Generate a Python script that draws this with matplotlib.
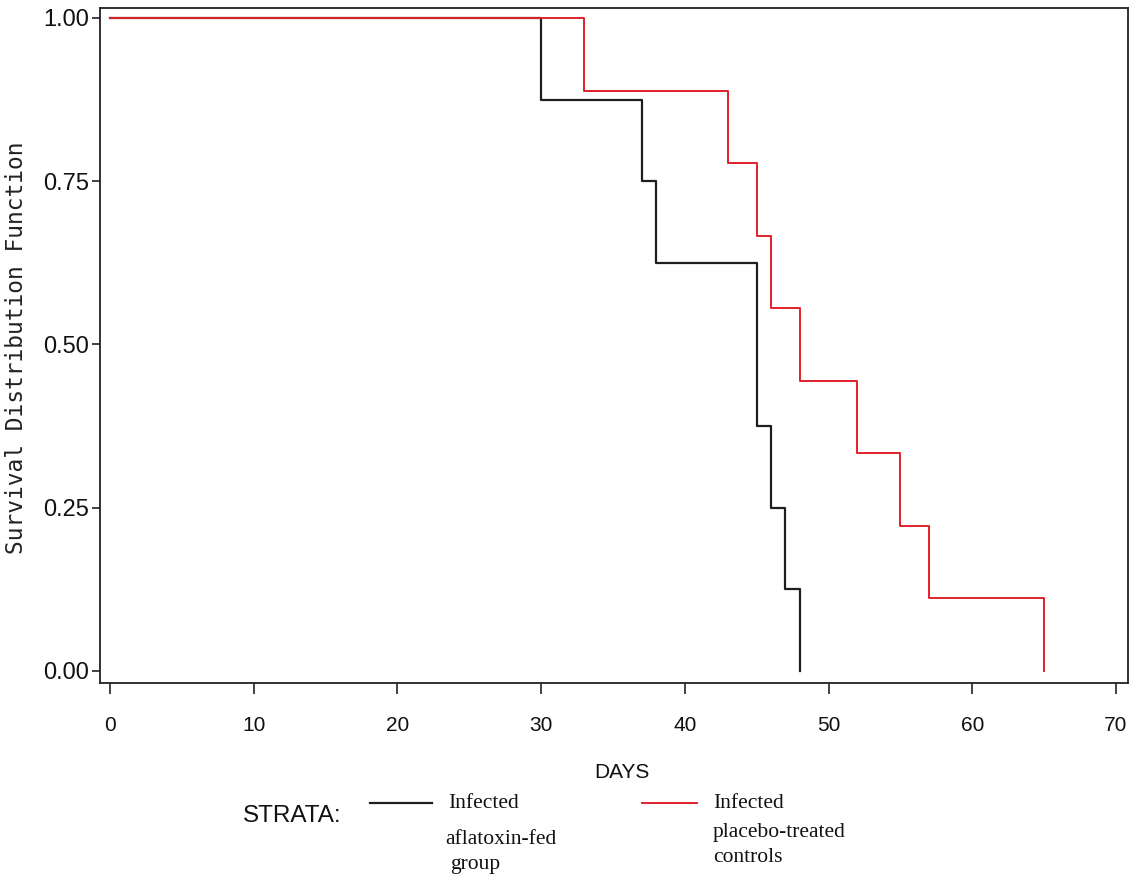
import matplotlib
matplotlib.use("Agg")
import matplotlib.pyplot as plt

# Kaplan-Meier steps
aflatoxin_days = [0, 30, 37, 38, 45, 46, 47, 48]
aflatoxin_surv = [1.0, 0.875, 0.75, 0.625, 0.375, 0.25, 0.125, 0.0]

placebo_days = [0, 33, 43, 45, 46, 48, 52, 55, 57, 65]
placebo_surv = [1.0, 8/9, 7/9, 6/9, 5/9, 4/9, 3/9, 2/9, 1/9, 0.0]

x_ticks = [0, 10, 20, 30, 40, 50, 60, 70]
y_ticks = [0.0, 0.25, 0.5, 0.75, 1.0]
y_labels = ["0.00", "0.25", "0.50", "0.75", "1.00"]

W, H = 1140, 877
fig = plt.figure(figsize=(W / 100, H / 100), dpi=100)
ax = fig.add_axes([100 / W, 1 - 683 / H, 1028 / W, 675 / H])

ax.step(aflatoxin_days, aflatoxin_surv, where="post", color="#1e1e1e", lw=1.6)
ax.step(placebo_days, placebo_surv, where="post", color="#e0202a", lw=1.4)

ax.set_xlim(-0.7, 70.84)
ax.set_ylim(-0.0184, 1.0153)
ax.set_xticks(x_ticks)
ax.set_yticks(y_ticks)
ax.set_yticklabels(y_labels)

for s in ax.spines.values():
    s.set_linewidth(1.3)
    s.set_color("#222222")

ax.tick_params(axis="x", direction="out", length=8, width=1.2, pad=16,
               labelsize=15, colors="#222222")
ax.tick_params(axis="y", direction="out", length=6, width=1.2, pad=2,
               labelsize=17, colors="#222222")
for lab in ax.get_xticklabels() + ax.get_yticklabels():
    lab.set_family("Liberation Sans")
    lab.set_color("#111111")

fig.text(622 / W, 1 - 772 / H, "DAYS", ha="center", va="center",
         family="Liberation Sans", fontsize=15, color="#111111")
fig.text(17 / W, 1 - 348 / H, "Survival Distribution Function", rotation=90,
         ha="center", va="center", family="DejaVu Sans Mono", fontsize=16.5,
         color="#222222")

# legend drawn by hand as in the original print
fig.text(243 / W, 1 - 816 / H, "STRATA:", ha="left", va="center",
         family="Liberation Sans", fontsize=17.5, color="#111111")
fig.add_artist(plt.Line2D([370 / W, 432 / W], [1 - 803 / H, 1 - 803 / H],
                          color="#1e1e1e", lw=1.6))
fig.add_artist(plt.Line2D([642 / W, 697 / W], [1 - 803 / H, 1 - 803 / H],
                          color="#e0202a", lw=1.4))
serif = dict(family="Liberation Serif", fontsize=15.5, color="#111111",
             ha="left", va="center")
fig.text(448 / W, 1 - 803 / H, "Infected", **serif)
fig.text(445 / W, 1 - 840 / H, "aflatoxin-fed", **serif)
fig.text(450 / W, 1 - 865 / H, "group", **serif)
fig.text(713 / W, 1 - 803 / H, "Infected", **serif)
fig.text(713 / W, 1 - 832 / H, "placebo-treated", **serif)
fig.text(713 / W, 1 - 857 / H, "controls", **serif)

fig.savefig("out.png", dpi=100)
